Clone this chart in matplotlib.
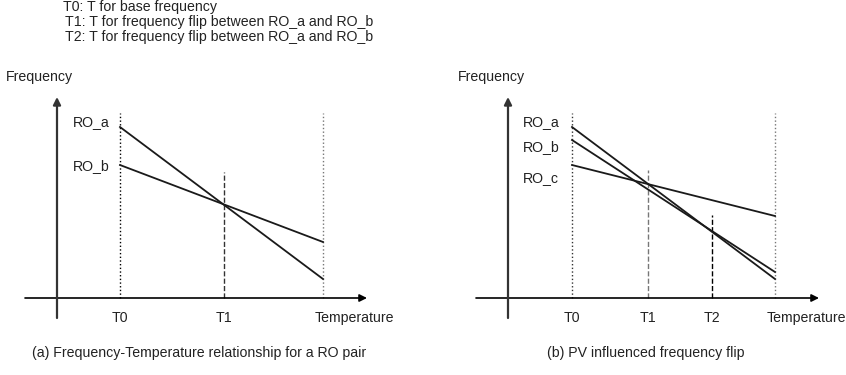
import matplotlib
matplotlib.use("Agg")
import matplotlib.pyplot as plt

plt.rcParams['font.family'] = ['Liberation Sans', 'DejaVu Sans']

W, H = 846, 375
DPI = 100

header_lines = [
    "T0: T for base frequency",
    "T1: T for frequency flip between RO_a and RO_b",
    "T2: T for frequency flip between RO_a and RO_b",
]

# Panel (a): positions along the temperature axis and frequency values
a_temps = [63, 167, 266]          # T0, T1, Tend
a_tick_labels = ["T0", "T1", "Temperature"]
a_series = {"RO_a": [171, 19], "RO_b": [133, 56]}
a_label_y = {"RO_a": 176, "RO_b": 132}
a_vline_tops = [185, 126, 185]
a_vline_styles = [":", "--", ":"]
a_vline_colors = ["black", "#333333", "#777777"]
a_caption = "(a) Frequency-Temperature relationship for a RO pair"

# Panel (b)
b_temps = [64, 140, 204, 267]      # T0, T1, T2, Tend
b_tick_labels = ["T0", "T1", "T2", "Temperature"]
b_series = {"RO_a": [171, 19], "RO_b": [158, 26], "RO_c": [133, 82]}
b_label_y = {"RO_a": 176, "RO_b": 151, "RO_c": 120}
b_vline_tops = [185, 128, 83, 185]
b_vline_styles = [":", "--", "--", ":"]
b_vline_colors = ["#333333", "#777777", "black", "#777777"]
b_caption = "(b) PV influenced frequency flip"

fig = plt.figure(figsize=(W / DPI, H / DPI), dpi=DPI)
fig.patch.set_facecolor("white")

FS = 10.2

for i, line in enumerate(header_lines):
    fig.text((63 + (2 if i else 0)) / W, 1 - (7 + 15 * i) / H, line,
             fontsize=FS, va="center", ha="left", color="#222222")


def draw_panel(left_px, origin_px, temps, tick_labels, series, label_y,
               vtops, vstyles, vcolors, caption, caption_x, label_x, freq_x):
    ax = fig.add_axes([left_px / W, 0, (W / 2) / W, 1])
    x0 = left_px - origin_px
    ax.set_xlim(x0, x0 + W / 2)
    ax.set_ylim(298 - H, 298)
    ax.axis("off")

    # axes with arrows
    ax.annotate("", xy=(temps[-1] + 44, 0), xytext=(-32, 0),
                arrowprops=dict(arrowstyle="-|>", color="black", lw=1.2,
                                mutation_scale=11, shrinkA=0, shrinkB=0))
    ax.annotate("", xy=(0, 201), xytext=(0, -20),
                arrowprops=dict(arrowstyle="-|>", color="#333333", lw=1.6,
                                mutation_scale=11, shrinkA=0, shrinkB=0))

    for t, top, ls, c in zip(temps, vtops, vstyles, vcolors):
        ax.plot([t, t], [0, top], linestyle=ls, color=c, lw=1.0)

    for name, vals in series.items():
        ax.plot([temps[0], temps[-1]], vals, color="#1a1a1a", lw=1.3)
        ax.text(label_x, label_y[name], name, fontsize=FS, ha="left",
                va="center", color="#222222")

    for t, lab in zip(temps, tick_labels):
        if lab == "Temperature":
            ax.text(t - 8, -20, lab, fontsize=FS, ha="left", va="center",
                    color="#222222")
        else:
            ax.text(t, -20, lab, fontsize=FS, ha="center", va="center",
                    color="#222222")

    ax.text(freq_x, 221, "Frequency", fontsize=FS, ha="left", va="center",
            color="#222222")
    ax.text(caption_x, -55, caption, fontsize=FS, ha="center", va="center",
            color="#222222")


draw_panel(0, 57, a_temps, a_tick_labels, a_series, a_label_y,
           a_vline_tops, a_vline_styles, a_vline_colors, a_caption,
           199 - 57, 73 - 57, 6 - 57)
draw_panel(W / 2, 508, b_temps, b_tick_labels, b_series, b_label_y,
           b_vline_tops, b_vline_styles, b_vline_colors, b_caption,
           646 - 508, 523 - 508, 458 - 508)

fig.savefig("out.png", dpi=DPI, facecolor="white")
